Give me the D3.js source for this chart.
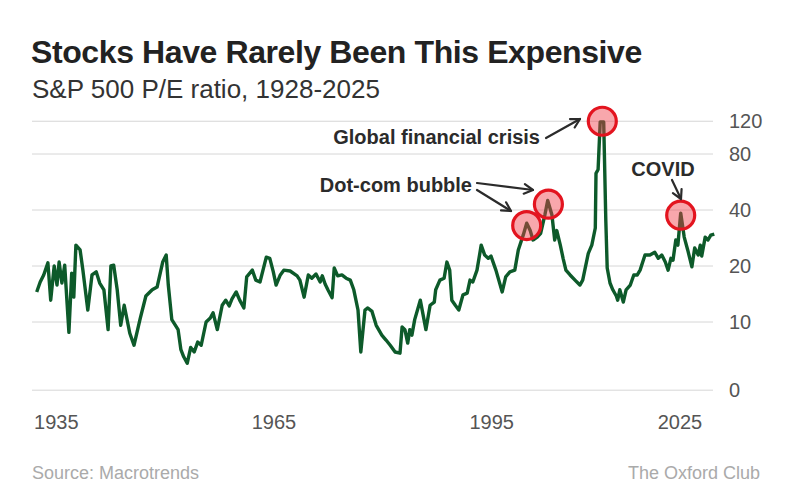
<!DOCTYPE html>
<html lang="en">
<head>
<meta charset="UTF-8">
<title>Stocks Have Rarely Been This Expensive</title>
<script src="https://d3js.org/d3.v7.min.js"></script>
<style>
  body { margin: 0; background: #fff; }
  svg { display: block; font-family: "Liberation Sans", Arial, sans-serif; }
</style>
</head>
<body>
<div id="chart"></div>
<script>
// P/E readings (year, ratio)
const years = [1928.1,1928.6,1929.1,1929.7,1930.1,1930.6,1931,1931.3,1931.7,1932.1,1932.7,1933.1,1933.4,1933.7,1934.3,1934.7,1935.4,1936,1936.6,1937.1,1937.7,1938.3,1938.7,1939.1,1939.6,1940.1,1940.6,1941.4,1942,1942.9,1943.7,1944.6,1945.3,1946.1,1946.6,1946.9,1947.4,1948.3,1948.7,1949.1,1949.6,1950.1,1950.6,1951.1,1951.6,1952.3,1952.9,1953.3,1953.9,1954.6,1955.1,1955.6,1956,1956.6,1957.1,1957.7,1958.1,1958.9,1959.4,1960,1960.9,1961.4,1961.9,1962.3,1962.9,1963.4,1964.3,1965.3,1965.7,1966.3,1966.9,1967.4,1968,1968.6,1968.9,1969.3,1969.7,1970.3,1970.6,1971.1,1971.7,1972.3,1972.9,1973.4,1974,1974.4,1975,1975.4,1976,1976.6,1977.4,1978,1978.6,1979.3,1980,1980.3,1980.7,1981.1,1981.4,1981.7,1982.1,1982.9,1983.7,1984.3,1984.9,1985.1,1985.7,1986.3,1986.7,1987.1,1987.4,1987.9,1988.4,1989,1989.6,1990,1990.4,1991,1991.6,1992.1,1992.6,1993,1993.7,1994.6,1995.1,1995.7,1996.4,1996.9,1997.6,1998.1,1998.6,1999,1999.6,2000.1,2000.7,2001.1,2001.7,2002.1,2002.4,2002.9,2003.3,2003.7,2004.3,2005,2005.7,2006.1,2006.9,2007.4,2007.9,2008,2008.3,2008.6,2009.1,2009.4,2009.6,2010,2010.4,2010.9,2011.1,2011.4,2011.9,2012.3,2012.9,2013.4,2013.9,2014.3,2015,2015.7,2016.4,2016.9,2017.4,2017.9,2018.3,2018.7,2019,2019.4,2019.7,2020.1,2020.6,2021.1,2021.7,2022.1,2022.6,2022.9,2023.1,2023.6,2024,2024.4,2024.9];
const peRatio = [14.5,16.4,17.9,20.8,13.1,20,15.8,21,16.2,20.2,8.8,18.3,13.6,25.9,24.4,19,11.6,17.9,18.6,16.2,14.9,9.1,20,20.2,14.9,9.6,12.3,8.7,7.5,10.5,13.8,14.9,15.4,21,22.9,15.8,10.3,9.1,7.1,6.5,6.0,7.3,6.9,7.8,7.5,10,10.5,11.2,9.1,12.3,13.1,12.2,13.3,14.5,13.1,11.9,17.5,19,16.8,16.4,22.3,22,18.6,15.8,17.9,19,18.8,17.7,16.8,13.6,17.9,17.2,18.1,16.4,17.7,16,14.9,13.5,19.5,17.7,17.9,17.2,16.8,14.9,11.6,6.9,11.6,11.9,11.4,9.6,8.5,8.0,7.5,6.9,6.8,9.4,9.1,7.7,9.1,8.5,10.3,13.1,9.1,12.3,12.8,14.9,16.8,17.2,21,19,13.1,12.3,11.6,14,14.3,16.8,16.4,19,25.9,22.9,22,22.6,19,14.5,17.5,18.6,19,24.4,29.3,34,31,27.6,28.6,30,37.7,45,37.7,27.6,31,25.9,22,19,17.9,16.8,15.8,16.8,23.4,25.9,32,63,66,119,119,35.3,19.5,16.2,14.9,13.8,13.1,14.9,12.8,14.9,15.8,17.9,17.9,19,22.9,22.9,23.7,22,22.9,21,19,22,21.5,27.6,25.9,38.5,28.6,24.4,19.8,25,22.9,25.9,22.6,28.6,27.6,29.3,29.7];

// y axis ticks; the "0" line sits at the bottom of the log scale
const yTickValues = [4.3, 10, 20, 40, 80, 120];
const yTickLabels = ["0", "10", "20", "40", "80", "120"];
// x labels as they sit on the original chart
const xTickYears = [1930.9, 1962, 1993.1, 2020];
const xTickLabels = ["1935", "1965", "1995", "2025"];

// highlighted peaks
const peakYears = [1998.1, 2001.2, 2008.9, 2020.1];
const peakValues = [33, 43, 120, 37.5];

const width = 792, height = 494;
const svg = d3.select('#chart').append('svg')
  .attr('width', width).attr('height', height);

const x = d3.scaleLinear().domain([1928, 2025]).range([36, 715]);
const y = d3.scaleLog().base(2).domain([20 * Math.pow(2, -124 / 56), 120]).range([390, 266 - 56 * Math.log2(6)]);

// grid
svg.append('g').selectAll('line')
  .data(yTickValues).enter().append('line')
  .attr('x1', 32).attr('x2', 713)
  .attr('y1', d => y(d)).attr('y2', d => y(d))
  .attr('stroke', '#d6d6d6').attr('stroke-width', 1);

svg.append('g').selectAll('text')
  .data(yTickValues).enter().append('text')
  .attr('x', 729).attr('y', d => y(d) + 7)
  .attr('font-size', 20).attr('fill', '#555')
  .text((d, i) => yTickLabels[i]);

svg.append('g').selectAll('text')
  .data(xTickYears).enter().append('text')
  .attr('x', d => x(d)).attr('y', 429)
  .attr('text-anchor', 'middle')
  .attr('font-size', 20).attr('fill', '#555')
  .text((d, i) => xTickLabels[i]);

// line
const series = years.map((yr, i) => [yr, peRatio[i]]);
svg.append('path')
  .datum(series)
  .attr('fill', 'none')
  .attr('stroke', '#0d5a2a')
  .attr('stroke-width', 3.4)
  .attr('stroke-linejoin', 'round')
  .attr('d', d3.line().x(d => x(d[0])).y(d => y(d[1])));

// circles on peaks
svg.append('g').selectAll('circle')
  .data(peakYears).enter().append('circle')
  .attr('cx', d => x(d)).attr('cy', (d, i) => y(peakValues[i]))
  .attr('r', 14)
  .attr('fill', 'rgba(240,60,70,0.45)')
  .attr('stroke', '#e3141f').attr('stroke-width', 3.2);

// annotations
const ann = svg.append('g').attr('font-size', 20).attr('font-weight', 'bold').attr('fill', '#2b2b2b');
ann.append('text').attr('x', 540).attr('y', 144).attr('text-anchor', 'end').text('Global financial crisis');
ann.append('text').attr('x', 472).attr('y', 192).attr('text-anchor', 'end').text('Dot-com bubble');
ann.append('text').attr('x', 663).attr('y', 176).attr('text-anchor', 'middle').text('COVID');

const arrows = [
  [[546, 138], [580, 119]],
  [[477, 183], [533, 190]],
  [[477, 190], [511, 211]],
  [[672, 180], [681, 199]]
];
const ag = svg.append('g').attr('stroke', '#2b2b2b').attr('stroke-width', 2.2).attr('fill', 'none')
  .attr('stroke-linecap', 'round').attr('stroke-linejoin', 'round');
arrows.forEach(([a, b]) => {
  ag.append('line').attr('x1', a[0]).attr('y1', a[1]).attr('x2', b[0]).attr('y2', b[1]);
  const ang = Math.atan2(b[1] - a[1], b[0] - a[0]);
  const L = 10, s = 0.5;
  ag.append('path').attr('d',
    `M${b[0] - L * Math.cos(ang - s)},${b[1] - L * Math.sin(ang - s)}L${b[0]},${b[1]}L${b[0] - L * Math.cos(ang + s)},${b[1] - L * Math.sin(ang + s)}`);
});

// titles
svg.append('text').attr('x', 31).attr('y', 63)
  .attr('font-size', 32).attr('font-weight', 'bold').attr('fill', '#222')
  .attr('letter-spacing', -0.4)
  .text('Stocks Have Rarely Been This Expensive');
svg.append('text').attr('x', 32).attr('y', 98)
  .attr('font-size', 26).attr('fill', '#333')
  .text('S&P 500 P/E ratio, 1928-2025');

svg.append('text').attr('x', 32).attr('y', 479)
  .attr('font-size', 18).attr('fill', '#aaa')
  .text('Source: Macrotrends');
svg.append('text').attr('x', 760).attr('y', 479).attr('text-anchor', 'end')
  .attr('font-size', 18).attr('fill', '#aaa')
  .text('The Oxford Club');
</script>
</body>
</html>
